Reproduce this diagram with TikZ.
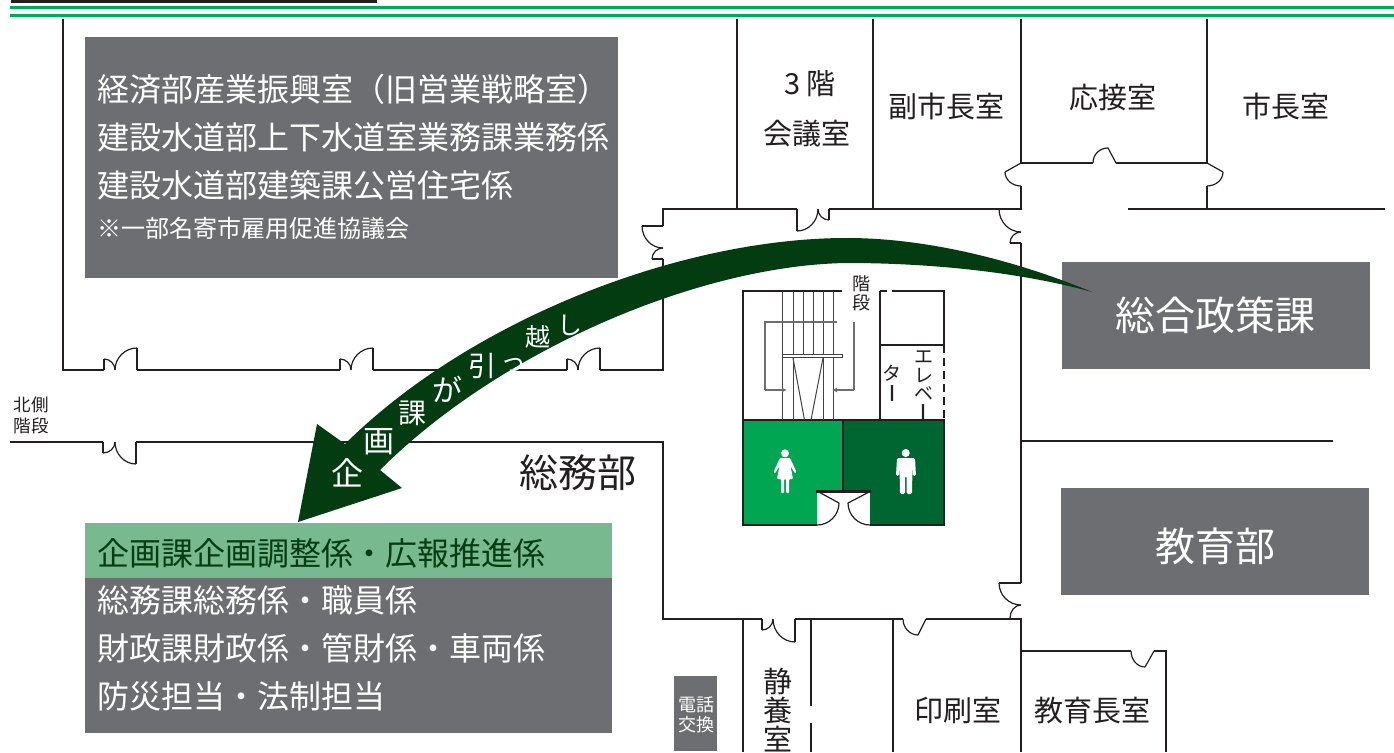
\documentclass[tikz,border=0pt]{standalone}
\usepackage{fontspec}
\usetikzlibrary{calc,arrows.meta}
\setmainfont{Noto Sans CJK JP}
\newfontfamily\fatjp[FakeBold=2.5]{Noto Sans CJK JP}
\definecolor{wallc}{HTML}{231F20}
\definecolor{boxgray}{HTML}{6D6E71}
\definecolor{lightgreen}{HTML}{78B98F}
\definecolor{arrowgreen}{HTML}{033C10}
\definecolor{ruleg}{HTML}{00A85A}
\definecolor{wcf}{HTML}{00A651}
\definecolor{wcm}{HTML}{006631}
\tikzset{
  wall/.style={draw=wallc,line width=2.8pt,line cap=butt,line join=miter},
  doorl/.style={draw=wallc,line width=1.2pt},
  stairl/.style={draw=wallc!85,line width=1pt},
  thinw/.style={draw=wallc,line width=1.5pt},
  guide/.style={draw=wallc!65,line width=1.1pt},
  graybox/.style={fill=boxgray,draw=none},
  fs/.code={\pgfmathsetlengthmacro\myH{.88*#1}\pgfmathsetlengthmacro\myD{.12*#1}%
    \tikzset{font=\fontsize{#1}{#1}\selectfont,text height=\myH,text depth=\myD,inner sep=0pt}},
  wt/.style={text=white},
  bk/.style={text=wallc},
}
\newcommand\qarc[3]{\draw[doorl] (#1) .. controls ($(#1)!.55!(#2)$) and ($(#3)!.55!(#2)$) .. (#3);}
\begin{document}
\begin{tikzpicture}[x=1pt,y=-1pt]
\path[use as bounding box,fill=white] (0,0) rectangle (1394,752);
% top rules
\fill[wallc] (11,0) rectangle (377,3.2);
\fill[ruleg] (10,6.3) rectangle (1394,9.3);
\fill[ruleg] (10,14.2) rectangle (1394,17.2);
% boxes
\fill[graybox] (85,37) rectangle (618,278);
\fill[graybox] (1062,262) rectangle (1370,369);
\fill[graybox] (1061,488) rectangle (1369,595);
\fill[lightgreen] (85,523) rectangle (612,578);
\fill[graybox] (85,578) rectangle (612,733);
\fill[graybox] (674,676) rectangle (717,751);
% outer-left walls
\draw[wall] (63,19) -- (63,370) -- (104,370);
\draw[wall] (137,370) -- (340,370);
\draw[wall] (373,370) -- (567,370);
\draw[wall] (600,370) -- (663,370) -- (663,259);
\foreach \x in {104,340,567}{
  \draw[doorl] (\x,370) -- (\x,359);
  \qarc{\x,359}{\x+11,359}{\x+11,370}
  \qarc{\x+33,348}{\x+11,348}{\x+11,370}
  \draw[doorl] (\x+33,348) -- (\x+33,370);
}
% door on x=663
\draw[doorl] (663,259) -- (652,259);
\qarc{652,259}{652,248}{663,248}
\qarc{642,226}{642,248}{663,248}
\draw[doorl] (642,226) -- (663,226);
\draw[wall] (663,226) -- (663,209) -- (797,209);
% door below 3F room
\draw[doorl] (797,209) -- (797,231);
\qarc{797,231}{818,231}{818,209}
\qarc{818,209}{818,220}{829,220}
\draw[doorl] (829,220) -- (829,209);
\draw[wall] (829,209) -- (1021,209) -- (1021,186);
% upper rooms
\draw[wall] (737,19) -- (737,209);
\draw[wall] (873,19) -- (873,209);
\draw[wall] (1021,19) -- (1021,163) -- (1093,163);
\draw[wall] (1116,163) -- (1207,163) -- (1207,19);
\draw[doorl] (1093,163) .. controls (1093,154) and (1100,148) .. (1108,148) -- (1116,163);
\draw[doorl] (1021,163) -- (1005,172);
\qarc{1005,172}{1005,186}{1021,186}
\draw[doorl] (1207,163) -- (1223,172);
\qarc{1223,172}{1223,186}{1207,186}
\draw[wall] (1207,186) -- (1207,209);
\draw[wall] (1128,209) -- (1385,209);
% door below y=209 on x=1021
\qarc{999,209}{999,232}{1021,232}
\qarc{1021,232}{1010,232}{1010,243}
\draw[doorl] (1010,243) -- (1021,243);
\draw[wall] (1021,243) -- (1021,583);
\draw[doorl] (1021,583) -- (999,583);
\qarc{999,583}{999,605}{1021,605}
\qarc{1021,605}{1010,605}{1010,618}
\draw[wall] (1021,618) -- (1021,752);
\draw[wall] (1021,441) -- (1333,441);
% corridor south wall
\draw[wall] (10,442) -- (103,442);
\draw[wall] (136,442) -- (663,442) -- (663,619) -- (762,619);
\draw[doorl] (103,442) -- (103,453);
\qarc{103,453}{115,453}{115,442}
\qarc{115,442}{115,464}{136,464}
\draw[doorl] (136,442) -- (136,464);
% bottom wall and rooms
\draw[doorl] (762,619) -- (762,630);
\qarc{762,630}{773,630}{773,619}
\qarc{773,619}{773,642}{795,642}
\draw[doorl] (795,619) -- (795,642);
\draw[wall] (795,619) -- (903,619);
\qarc{903,619}{903,635}{918,635}
\draw[doorl] (918,635) -- (926,619);
\draw[wall] (926,619) -- (1022.4,619);
\draw[wall] (743,619) -- (743,752);
\draw[wall] (893,619) -- (893,752);
\draw[thinw] (811,619) -- (811,706);
\draw[thinw] (811,723) -- (811,752);
\draw[wall] (1021,651) -- (1131,651);
\qarc{1131,651}{1131,667}{1145,667}
\draw[doorl] (1145,667) -- (1154,651);
\draw[wall] (1154,651) -- (1166,651) -- (1166,752);
% restrooms
\fill[wcf] (743,420) rectangle (843,525);
\fill[wcm] (843,420) rectangle (944,525);
\fill[white] (817,491) rectangle (870,526.5);
\draw[thinw] (843,420) -- (843,491);
% stair/elevator block
\draw[wall] (842,291) -- (743,291) -- (743,525) -- (817,525);
\draw[wall] (870,525) -- (944,525) -- (944,420) -- (743,420);
\draw[wall] (899,291) -- (944,291) -- (944,345);
\draw[thinw,dash pattern=on 7pt off 5pt] (880,291) -- (899,291);
\draw[thinw] (880,291) -- (880,420);
\draw[thinw] (880,345) -- (944,345);
\draw[thinw,dash pattern=on 8pt off 5pt] (944,345) -- (944,420);
\draw[draw=wallc,line width=3pt] (816,491) -- (871,491);
\draw[doorl] (817,491) -- (839,503);
\qarc{839,503}{839,525}{817,525}
\draw[doorl] (871,491) -- (848,503);
\qarc{848,503}{848,525}{870,525}
% stairs
\foreach \x in {782,793,823,833}{\draw[stairl] (\x,291) -- (\x,420);}
\foreach \x in {803,813}{\draw[stairl] (\x,291) -- (\x,355);}
\draw[stairl,fill=white] (782,354.5) rectangle (842,357.5);
\draw[stairl] (793,358) -- (804.5,420);
\draw[stairl] (823,358) -- (811,420);
\draw[guide] (837,322) -- (765,322) -- (765,390);
\draw[guide,-{Latex[length=5pt,width=5pt]}] (765,390) -- (787,390);
\draw[guide] (854,322) -- (854,390);
\draw[guide,-{Latex[length=5pt,width=5pt]}] (854,390) -- (832,390);
% people
\fill[white] (785,453.3) circle (4);
\fill[white,rounded corners=1pt] (780,458) -- (790,458) -- (796.5,472) -- (795,473.5) -- (790.5,466) -- (793,479) -- (789,479) -- (789,493) -- (786,493) -- (786,479) -- (784,479) -- (784,493) -- (781,493) -- (781,479) -- (777,479) -- (779.5,466) -- (775,473.5) -- (773.5,472) -- cycle;
\fill[white] (905.7,453) circle (4);
\fill[white,rounded corners=1.5pt] (897,458) -- (915,458) -- (916,476) -- (913,476) -- (912.5,465) -- (912,494) -- (906.5,494) -- (906.5,476) -- (905,476) -- (905,494) -- (900,494) -- (899.5,465) -- (899,476) -- (896,476) -- cycle;
% arrow
\fill[arrowgreen] (298,522) -- (317,424) -- (345,444)
  .. controls (470,320) and (680,238) .. (847,238)
  .. controls (930,238) and (1020,262) .. (1092,292)
  .. controls (1020,272) and (930,263) .. (847,263)
  .. controls (700,265) and (500,350) .. (380,470)
  -- (402,488) -- cycle;
% arrow text
\node[fs=32,wt] (a1) at (347,473) {企};
\node[fs=31,wt] (a2) at (379,441) {画};
\node[fs=28,wt] (a3) at (412,413) {課};
\node[fs=30,wt] (a4) at (447,390) {が};
\node[fs=28,wt] (a5) at (482,366) {引};
\node[fs=26,wt] (a6) at (513,362) {っ};
\node[fs=25,wt] (a7) at (538,337) {越};
\node[fs=25,wt] (a8) at (570,325) {し};
% box text
\node[fs=32,wt,anchor=west] (t1) at (97,89) {経済部産業振興室（旧営業戦略室）};
\node[fs=32,wt,anchor=west] (t2) at (97,137) {建設水道部上下水道室業務課業務係};
\node[fs=32,wt,anchor=west] (t3) at (97,185) {建設水道部建築課公営住宅係};
\node[fs=24,wt,anchor=west] (t4) at (97,228) {※一部名寄市雇用促進協議会};
\node[fs=32,anchor=west,text=arrowgreen] (g1) at (97,553) {企画課企画調整係・広報推進係};
\node[fs=32,wt,anchor=west] (g2) at (97,600) {総務課総務係・職員係};
\node[fs=32,wt,anchor=west] (g3) at (97,648) {財政課財政係・管財係・車両係};
\node[fs=32,wt,anchor=west] (g4) at (97,696) {防災担当・法制担当};
\node[fs=40,wt] (soga) at (1215,315) {総合政策課};
\node[fs=40,wt] (kyo) at (1215,546) {教育部};
\node[fs=39,bk] (somu) at (578,473) {総務部};
\node[fs=18,wt] (den) at (696,705) {電話};
\node[fs=18,wt] (kou) at (696,725) {交換};
\node[fs=17.5,bk] (n1) at (31,405) {北側};
\node[fs=17.5,bk] (n2) at (31,426) {階段};
\node[fs=29,bk] (r3f) at (810,83) {3 階};
\node[fs=29,bk] (rk) at (807,133) {会議室};
\node[fs=29,bk] (rf) at (946,106) {副市長室};
\node[fs=29,bk] (ro) at (1113,97) {応接室};
\node[fs=29,bk] (rs) at (1286,106) {市長室};
\node[fs=29,bk] (y1) at (778,681) {静};
\node[fs=29,bk] (y2) at (778,710) {養};
\node[fs=29,bk] (y3) at (778,739) {室};
\node[fs=29,bk] (ri) at (958,710) {印刷室};
\node[fs=29,bk] (rc) at (1092,710) {教育長室};
\node[fs=18,bk] (st1) at (861,284) {階};
\node[fs=18,bk] (st2) at (861,303) {段};
\node[fs=19,bk] (e1) at (924,356) {エ};
\node[fs=19,bk] (e2) at (924,375) {レ};
\node[fs=19,bk] (e3) at (924,393) {ベ};
\node[fs=19,bk,rotate=90] (e4) at (923,412) {\fatjp ー};
\node[fs=19,bk] (e5) at (892,373) {タ};
\node[fs=19,bk,rotate=90] (e6) at (892,393) {\fatjp ー};
\end{tikzpicture}
\end{document}
